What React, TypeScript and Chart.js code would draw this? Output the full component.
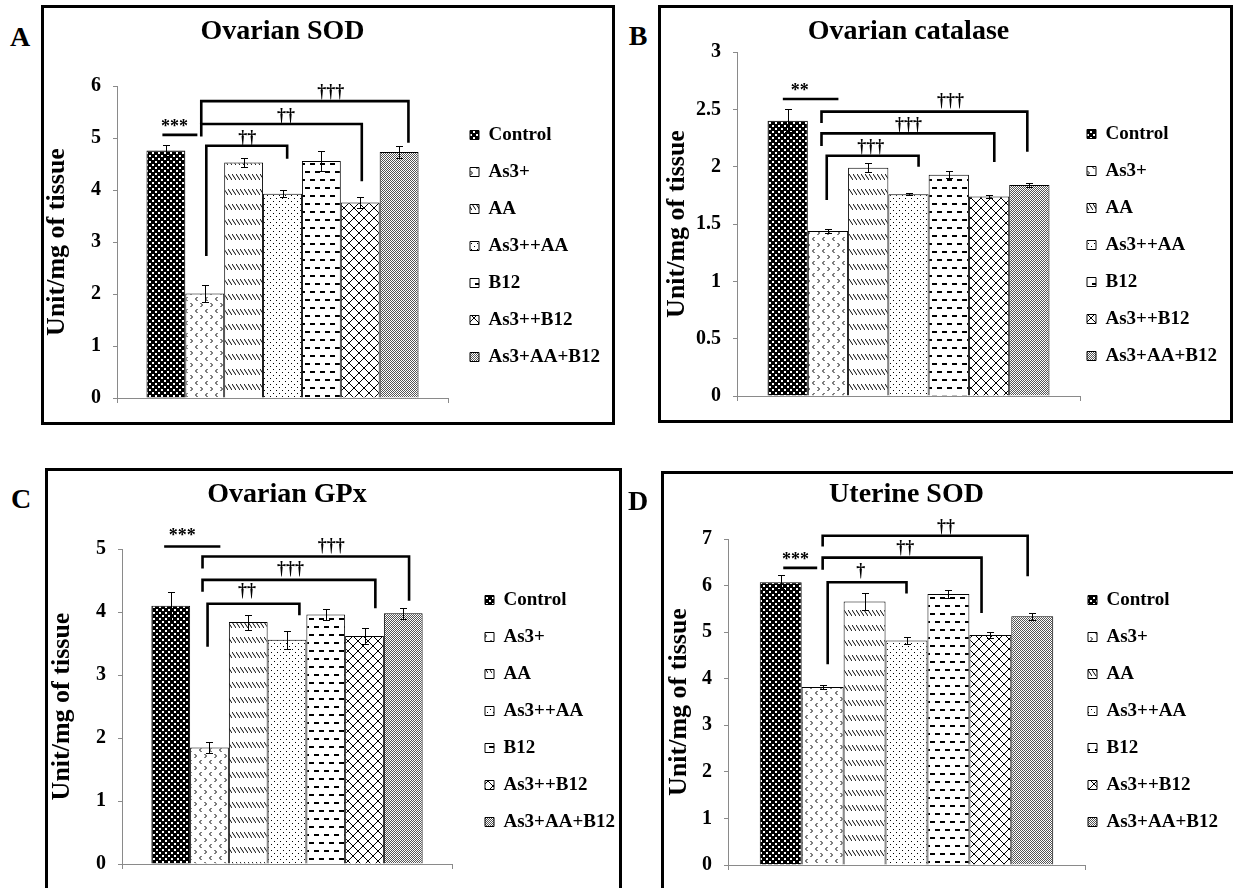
import React, { useEffect, useRef } from 'react';
import { Chart, registerables } from 'chart.js';

Chart.register(...registerables);

// ---------------- data ----------------
const GROUPS = ['Control', 'As3+', 'AA', 'As3++AA', 'B12', 'As3++B12', 'As3+AA+B12'];
const Y_TITLE = 'Unit/mg of tissue';

// A - Ovarian SOD
const SOD_OVARY_MEAN = [4.76, 2.01, 4.53, 3.93, 4.56, 3.76, 4.73];
const SOD_OVARY_SEM = [0.11, 0.17, 0.09, 0.07, 0.19, 0.11, 0.11];
const SOD_OVARY_TICKS = { max: 6, step: 1 };
const SOD_OVARY_STAR = { text: '***', x1: -0.09, x2: 0.81, y: 5.06, tx: 0.22, ty: 5.2 };
const SOD_OVARY_BRACKETS = [
  { text: '††', from: 1.04, to: 3.12, top: 4.85, fromBase: 2.73, toBase: 4.6, tx: 2.09, ty: 4.99 },
  { text: '††', from: 0.91, to: 5.04, top: 5.27, fromBase: 5.03, toBase: 4.17, tx: 3.09, ty: 5.41 },
  { text: '†††', from: 0.91, to: 6.24, top: 5.71, fromBase: 5.27, toBase: 4.91, tx: 4.24, ty: 5.87 },
];

// B - Ovarian catalase
const CAT_OVARY_MEAN = [2.4, 1.44, 1.99, 1.76, 1.93, 1.74, 1.84];
const CAT_OVARY_SEM = [0.1, 0.02, 0.04, 0.01, 0.03, 0.01, 0.02];
const CAT_OVARY_TICKS = { max: 3, step: 0.5 };
const CAT_OVARY_STAR = { text: '**', x1: -0.12, x2: 1.26, y: 2.59, tx: 0.3, ty: 2.66 };
const CAT_OVARY_BRACKETS = [
  { text: '†††', from: 0.97, to: 3.25, top: 2.095, fromBase: 1.71, toBase: 2.0, tx: 2.06, ty: 2.17 },
  { text: '†††', from: 0.84, to: 5.13, top: 2.29, fromBase: 2.18, toBase: 2.04, tx: 3.0, ty: 2.36 },
  { text: '†††', from: 0.84, to: 5.95, top: 2.48, fromBase: 2.38, toBase: 2.13, tx: 4.04, ty: 2.57 },
];

// C - Ovarian GPx
const GPX_OVARY_MEAN = [4.1, 1.85, 3.84, 3.56, 3.96, 3.62, 3.98];
const GPX_OVARY_SEM = [0.22, 0.09, 0.12, 0.14, 0.09, 0.12, 0.09];
const GPX_OVARY_TICKS = { max: 5, step: 1 };
const GPX_OVARY_STAR = { text: '***', x1: -0.17, x2: 1.28, y: 5.04, tx: 0.3, ty: 5.2 };
const GPX_OVARY_BRACKETS = [
  { text: '††', from: 0.95, to: 3.32, top: 4.13, fromBase: 3.45, toBase: 3.95, tx: 1.97, ty: 4.32 },
  { text: '†††', from: 0.82, to: 5.28, top: 4.51, fromBase: 4.32, toBase: 4.06, tx: 3.09, ty: 4.67 },
  { text: '†††', from: 0.82, to: 6.15, top: 4.88, fromBase: 4.69, toBase: 4.18, tx: 4.14, ty: 5.04 },
];

// D - Uterine SOD
const SOD_UTERUS_MEAN = [6.07, 3.82, 5.66, 4.82, 5.82, 4.94, 5.34];
const SOD_UTERUS_SEM = [0.15, 0.04, 0.18, 0.07, 0.09, 0.06, 0.07];
const SOD_UTERUS_TICKS = { max: 7, step: 1 };
const SOD_UTERUS_STAR = { text: '***', x1: 0.06, x2: 0.87, y: 6.38, tx: 0.35, ty: 6.55 };
const SOD_UTERUS_BRACKETS = [
  { text: '†', from: 1.12, to: 3.0, top: 6.07, fromBase: 4.31, toBase: 5.83, tx: 1.91, ty: 6.3 },
  { text: '††', from: 1.0, to: 4.79, top: 6.6, fromBase: 6.34, toBase: 5.41, tx: 2.97, ty: 6.79 },
  { text: '††', from: 1.0, to: 5.89, top: 7.07, fromBase: 6.84, toBase: 6.2, tx: 3.94, ty: 7.26 },
];

// ---------------- layout / style ----------------
const SERIF = '"Liberation Serif", "Times New Roman", serif';
const AXIS_GRAY = '#8a8a8a';

const PANELS = [
  {
    letter: 'A', letterX: 20, letterY: 37, title: 'Ovarian SOD',
    mean: SOD_OVARY_MEAN, sem: SOD_OVARY_SEM, ticks: SOD_OVARY_TICKS, star: SOD_OVARY_STAR, brackets: SOD_OVARY_BRACKETS,
    box: { left: 41, top: 5, width: 574, height: 420 },
    yw: 73, xh: 22, tpTop: 7.2, tpBot: 37.2, pr: 44, yTitlePad: 0.7, dx: 4, dy: 4,
  },
  {
    letter: 'B', letterX: 638, letterY: 36, title: 'Ovarian catalase',
    mean: CAT_OVARY_MEAN, sem: CAT_OVARY_SEM, ticks: CAT_OVARY_TICKS, star: CAT_OVARY_STAR, brackets: CAT_OVARY_BRACKETS,
    box: { left: 658, top: 5, width: 575, height: 418 },
    yw: 76, xh: 20, tpTop: 7.2, tpBot: 3.2, pr: 30, yTitlePad: 2.9, dx: -11, dy: 21,
  },
  {
    letter: 'C', letterX: 21, letterY: 499, title: 'Ovarian GPx',
    mean: GPX_OVARY_MEAN, sem: GPX_OVARY_SEM, ticks: GPX_OVARY_TICKS, star: GPX_OVARY_STAR, brackets: GPX_OVARY_BRACKETS,
    box: { left: 45, top: 468, width: 577, height: 424 },
    yw: 74, xh: 25, tpTop: 7.2, tpBot: 37.2, pr: 47, yTitlePad: 1.4, dx: 15, dy: 4.5,
  },
  {
    letter: 'D', letterX: 638, letterY: 501, title: 'Uterine SOD',
    mean: SOD_UTERUS_MEAN, sem: SOD_UTERUS_SEM, ticks: SOD_UTERUS_TICKS, star: SOD_UTERUS_STAR, brackets: SOD_UTERUS_BRACKETS,
    box: { left: 661, top: 471, width: 575, height: 421 },
    yw: 64, xh: 22, tpTop: 4.2, tpBot: 27.2, pr: 28, yTitlePad: 2, dx: -15, dy: 9,
  },
];

const BORDER = 3;
const LEGEND_W = 120;

// ---------------- patterns ----------------
function makeTile(w: number, h: number, draw: (g: CanvasRenderingContext2D) => void) {
  const c = document.createElement('canvas');
  c.width = w;
  c.height = h;
  const g = c.getContext('2d') as CanvasRenderingContext2D;
  g.fillStyle = '#fff';
  g.fillRect(0, 0, w, h);
  g.fillStyle = '#000';
  g.strokeStyle = '#000';
  g.lineWidth = 1;
  draw(g);
  return c;
}

const TILE_MAKERS = [
  // Control: dark checker
  () => makeTile(6, 6, (g) => {
    g.fillRect(0, 0, 6, 6);
    g.fillStyle = '#fff';
    g.fillRect(0, 0, 2, 2);
    g.fillRect(3, 3, 2, 2);
  }),
  // As3+: small chevrons
  () => makeTile(10, 12, (g) => {
    g.beginPath();
    g.moveTo(3.5, 1);
    g.lineTo(1.5, 3);
    g.lineTo(3.5, 5);
    g.moveTo(6.5, 7);
    g.lineTo(8.5, 9);
    g.lineTo(6.5, 11);
    g.stroke();
  }),
  // AA: rows of backslashes
  () => makeTile(4, 15, (g) => {
    g.beginPath();
    g.moveTo(0, 1);
    g.lineTo(4, 7);
    g.stroke();
  }),
  // As3++AA: sparse dots
  () => makeTile(6, 6, (g) => {
    g.fillRect(1, 1, 1, 1);
    g.fillRect(4, 4, 1, 1);
  }),
  // B12: horizontal dashes
  () => makeTile(10, 16, (g) => {
    g.fillRect(1, 3, 5, 2);
    g.fillRect(6, 11, 4, 2);
    g.fillRect(0, 11, 1, 2);
  }),
  // As3++B12: diamond cross-hatch
  () => makeTile(10, 10, (g) => {
    g.beginPath();
    g.moveTo(0, 0);
    g.lineTo(10, 10);
    g.moveTo(10, 0);
    g.lineTo(0, 10);
    g.stroke();
  }),
  // As3+AA+B12: fine stipple
  () => makeTile(2, 2, (g) => {
    g.fillStyle = '#555';
    g.fillRect(0, 0, 1, 1);
    g.fillRect(1, 1, 1, 1);
  }),
];

// ---------------- plugins ----------------
function errorBarPlugin(sem: number[]) {
  return {
    id: 'errorBars',
    afterDatasetsDraw(chart: any) {
      const ctx = chart.ctx;
      const ys = chart.scales.y;
      ctx.save();
      ctx.strokeStyle = '#000';
      ctx.lineWidth = 1;
      chart.data.datasets.forEach((ds: any, i: number) => {
        const el = chart.getDatasetMeta(i).data[0];
        if (!el) return;
        const v = ds.data[0];
        const e = sem[i];
        const x = Math.round(el.x) + 0.5;
        const yt = Math.round(ys.getPixelForValue(v + e)) + 0.5;
        const yb = Math.round(ys.getPixelForValue(v - e)) + 0.5;
        ctx.beginPath();
        ctx.moveTo(x, yt);
        ctx.lineTo(x, yb);
        ctx.moveTo(x - 3.5, yt);
        ctx.lineTo(x + 3.5, yt);
        ctx.moveTo(x - 3.5, yb);
        ctx.lineTo(x + 3.5, yb);
        ctx.stroke();
      });
      ctx.restore();
    },
  };
}

function significancePlugin(star: any, brackets: any[]) {
  return {
    id: 'significance',
    afterDatasetsDraw(chart: any) {
      const ctx = chart.ctx;
      const ys = chart.scales.y;
      const b0 = chart.getDatasetMeta(0).data[0];
      const b1 = chart.getDatasetMeta(1).data[0];
      if (!b0 || !b1) return;
      const step = b1.x - b0.x;
      const X = (f: number) => b0.x + f * step;
      const Y = (v: number) => ys.getPixelForValue(v);
      ctx.save();
      ctx.strokeStyle = '#000';
      ctx.fillStyle = '#000';
      ctx.lineWidth = 2.6;
      ctx.lineJoin = 'miter';
      ctx.lineCap = 'butt';
      ctx.textAlign = 'center';
      ctx.textBaseline = 'middle';

      ctx.beginPath();
      ctx.moveTo(X(star.x1), Y(star.y));
      ctx.lineTo(X(star.x2), Y(star.y));
      ctx.stroke();
      ctx.font = `bold 18px ${SERIF}`;
      ctx.fillText(star.text, X(star.tx), Y(star.ty));

      ctx.font = `bold 18px ${SERIF}`;
      brackets.forEach((b) => {
        ctx.beginPath();
        ctx.moveTo(X(b.from), Y(b.fromBase));
        ctx.lineTo(X(b.from), Y(b.top));
        ctx.lineTo(X(b.to), Y(b.top));
        ctx.lineTo(X(b.to), Y(b.toBase));
        ctx.stroke();
        ctx.fillText(b.text, X(b.tx), Y(b.ty));
      });
      ctx.restore();
    },
  };
}

function legendShiftPlugin(dx: number, dy: number) {
  return {
    id: 'legendShift',
    afterLayout(chart: any) {
      const l = chart.legend;
      if (!l) return;
      l.left += dx;
      l.right = l.left + 260;
      l.width = 260;
      l.top += dy;
      l.bottom += dy;
    },
  };
}

// ---------------- components ----------------
function Panel({ p }: { p: any }) {
  const ref = useRef<HTMLCanvasElement | null>(null);
  const w = p.box.width - 2 * BORDER;
  const h = p.box.height - 2 * BORDER;

  useEffect(() => {
    const canvas = ref.current;
    if (!canvas) return;
    const ctx = canvas.getContext('2d') as CanvasRenderingContext2D;
    const patterns = TILE_MAKERS.map((mk) => ctx.createPattern(mk(), 'repeat'));

    const chart = new Chart(canvas, {
      type: 'bar',
      data: {
        labels: [''],
        datasets: GROUPS.map((g, i) => ({
          label: g,
          data: [p.mean[i]],
          backgroundColor: patterns[i] as any,
          borderColor: '#000',
          borderWidth: 1,
          categoryPercentage: 0.822,
          barPercentage: 1,
        })),
      },
      options: {
        responsive: false,
        animation: false,
        devicePixelRatio: 1,
        events: [],
        layout: { padding: { left: 0, top: 0, bottom: 0, right: p.pr } },
        plugins: {
          title: {
            display: true,
            text: p.title,
            fullSize: false,
            color: '#000',
            font: { family: SERIF, size: 28, weight: 'bold', lineHeight: 1.2 },
            padding: { top: p.tpTop, bottom: p.tpBot },
          },
          legend: {
            display: true,
            position: 'right',
            fullSize: false,
            maxWidth: LEGEND_W,
            labels: {
              boxWidth: 9,
              boxHeight: 9,
              padding: 18,
              color: '#000',
              font: { family: SERIF, size: 19, weight: 'bold', lineHeight: 1.2 },
            },
          },
          tooltip: { enabled: false },
        },
        scales: {
          x: {
            type: 'category',
            offset: true,
            ticks: { display: false },
            grid: {
              display: true,
              drawOnChartArea: false,
              drawTicks: true,
              tickLength: 5,
              color: AXIS_GRAY,
              offset: true,
            },
            border: { display: true, color: AXIS_GRAY, width: 1 },
            afterFit: (s: any) => {
              s.height = p.xh;
            },
          },
          y: {
            min: 0,
            max: p.ticks.max,
            ticks: {
              stepSize: p.ticks.step,
              color: '#000',
              padding: 12,
              font: { family: SERIF, size: 20, weight: 'bold' },
              callback: (v: any) => String(Number(v)),
            },
            grid: {
              display: true,
              drawOnChartArea: false,
              drawTicks: true,
              tickLength: 4,
              color: AXIS_GRAY,
            },
            border: { display: true, color: AXIS_GRAY, width: 1 },
            title: {
              display: true,
              text: Y_TITLE,
              color: '#000',
              font: { family: SERIF, size: 26, weight: 'bold', lineHeight: 1 },
              padding: { top: p.yTitlePad, bottom: 0 },
            },
            afterFit: (s: any) => {
              s.width = p.yw;
            },
          },
        },
      } as any,
      plugins: [errorBarPlugin(p.sem), significancePlugin(p.star, p.brackets), legendShiftPlugin(p.dx, p.dy)],
    });
    return () => chart.destroy();
  }, []);

  return (
    <>
      <div
        style={{
          position: 'absolute',
          left: p.letterX - 20,
          top: p.letterY - 14,
          width: 40,
          textAlign: 'center',
          fontFamily: SERIF,
          fontWeight: 'bold',
          fontSize: 28,
          lineHeight: '28px',
          color: '#000',
        }}
      >
        {p.letter}
      </div>
      <div
        style={{
          position: 'absolute',
          left: p.box.left,
          top: p.box.top,
          width: p.box.width,
          height: p.box.height,
          border: `${BORDER}px solid #000`,
          boxSizing: 'border-box',
          background: '#fff',
        }}
      >
        <canvas ref={ref} width={w} height={h} style={{ position: 'absolute', left: 0, top: 0, width: w, height: h }} />
      </div>
    </>
  );
}

export default function App() {
  return (
    <div
      style={{
        position: 'fixed',
        left: 0,
        top: 0,
        width: 1233,
        height: 888,
        overflow: 'hidden',
        background: '#fff',
      }}
    >
      {PANELS.map((p) => (
        <Panel key={p.letter} p={p} />
      ))}
    </div>
  );
}
